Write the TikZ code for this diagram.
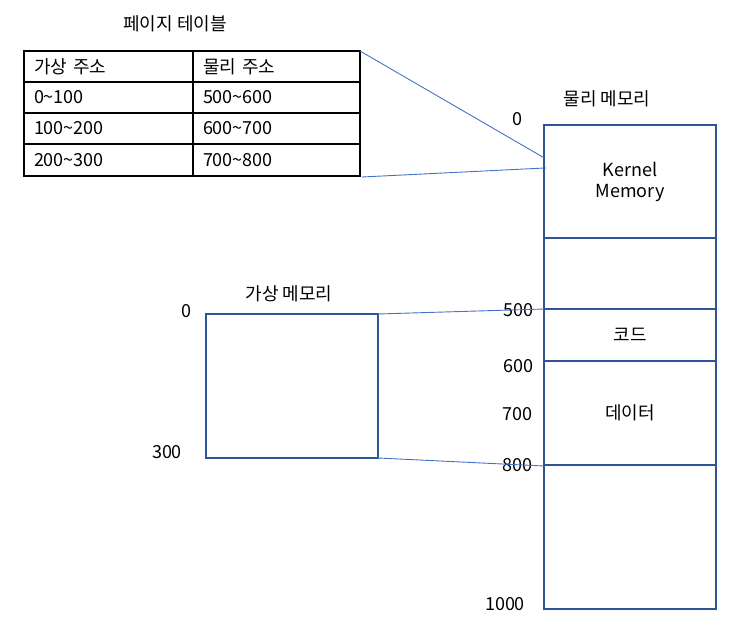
\documentclass[tikz,border=0pt]{standalone}
\usepackage{fontspec}
\setmainfont{Noto Sans CJK KR}
\usetikzlibrary{calc}
\definecolor{boxblue}{HTML}{2F5597}
\definecolor{connblue}{HTML}{4472C4}
\begin{document}
\begin{tikzpicture}[x=1pt,y=-1pt,
  every node/.style={font=\fontsize{18}{21}\selectfont, inner sep=0pt, outer sep=0pt},
  cellA/.style={draw=black, line width=1.2pt, minimum height=31pt, anchor=north west, text width=149pt, inner xsep=10pt, align=left},
  cellB/.style={draw=black, line width=1.2pt, minimum height=31pt, anchor=north west, text width=147pt, inner xsep=10pt, align=left},
  membox/.style={draw=boxblue, line width=1.2pt, minimum width=172pt, align=center},
  conn/.style={draw=connblue, line width=0.9pt},
  lbl/.style={}]
\useasboundingbox (0,0) rectangle (736,631);
% page table
\node (ttitle) at (175,24) {페이지 테이블};
\node[cellA] (t11) at (24,51) {가상 주소};
\node[cellB] (t12) at (193,51) {물리 주소};
\node[cellA] (t21) at (24,82) {0\textasciitilde100};
\node[cellB] (t22) at (193,82) {500\textasciitilde600};
\node[cellA] (t31) at (24,113) {100\textasciitilde200};
\node[cellB] (t32) at (193,113) {600\textasciitilde700};
\node[cellA, minimum height=32pt] (t41) at (24,144) {200\textasciitilde300};
\node[cellB, minimum height=32pt] (t42) at (193,144) {700\textasciitilde800};
% physical memory
\node (ptitle) at (607,99) {물리 메모리};
\node[membox, minimum height=113pt] (mk) at (630,181.5) {Kernel\\Memory};
\node[membox, minimum height=71pt] (mf1) at (630,273.5) {};
\node[membox, minimum height=52pt] (mc) at (630,335) {코드};
\node[membox, minimum height=104pt] (md) at (630,413) {데이터};
\node[membox, minimum height=144pt] (mf2) at (630,537) {};
\draw[boxblue, line width=1.8pt] (mk.north west) -- (mk.north east);
\node[lbl] (p0) at (517,119) {0};
\node[lbl] (p500) at (518,310) {500};
\node[lbl] (p600) at (518,366) {600};
\node[lbl] (p700) at (517,414) {700};
\node[lbl] (p800) at (517,465) {800};
\node[lbl] (p1000) at (505,604) {1000};
% virtual memory
\node (vtitle) at (289,294) {가상 메모리};
\node[membox, minimum height=144pt] (vm) at (292,386) {};
\node[lbl] (v0) at (186,311) {0};
\node[lbl] (v300) at (167,452) {300};
% connectors
\coordinate (k1) at ($(mk.north west)!0.29!(mk.south west)$);
\coordinate (k2) at ($(mk.north west)!0.38!(mk.south west)+(2,0)$);
\draw[conn] (t42.north east |- t12.north) -- (k1);
\draw[conn] ($(t42.south east)+(2,1)$) -- (k2);
\draw[conn] (vm.north east) -- (mc.north west);
\draw[conn] (vm.south east) -- ($(md.south west)+(0,1)$);
\end{tikzpicture}
\end{document}
